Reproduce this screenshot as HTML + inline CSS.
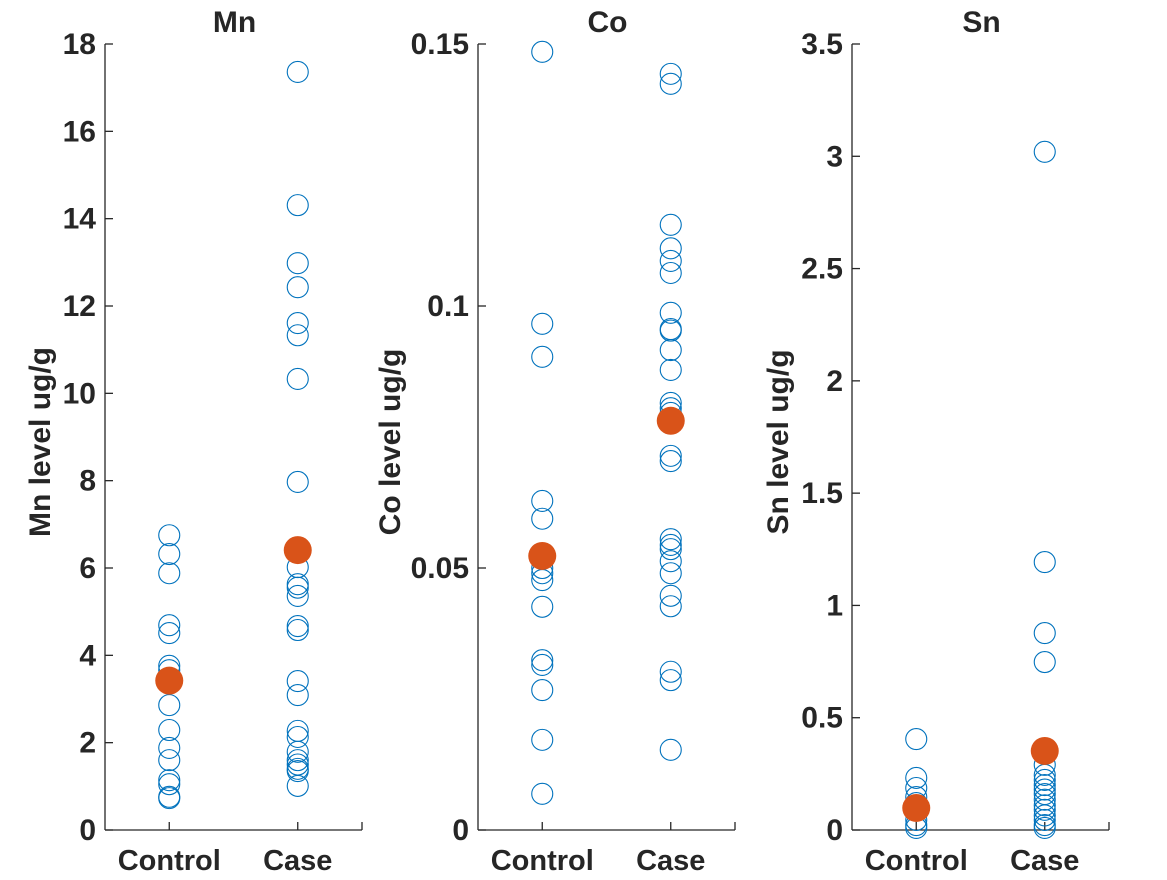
<!DOCTYPE html>
<html><head><meta charset="utf-8"><style>
body{margin:0;background:#fff;}
svg text{font-family:"Liberation Sans",Arial,sans-serif;font-weight:bold;fill:#262626;}
</style></head><body>
<svg id="chart" width="1167" height="875" xmlns="http://www.w3.org/2000/svg"></svg>
<script>
const categories = ["Control","Case"];
const titles = ["Mn","Co","Sn"];
const mnControl = [6.75,6.32,5.88,4.69,4.51,3.76,3.66,2.86,2.29,1.88,1.6,1.14,1.05,0.76,0.73];
const mnCase = [17.36,14.31,12.98,12.43,11.61,11.33,10.33,7.97,6.02,5.63,5.55,5.36,4.67,4.58,3.41,3.09,2.27,2.13,1.79,1.6,1.5,1.4,1.35,1.01];
const mnMeans = [3.42,6.41];
const coControl = [0.1485,0.0966,0.0903,0.0628,0.0594,0.05,0.049,0.0477,0.0426,0.0324,0.0315,0.0267,0.0172,0.0069];
const coCase = [0.1443,0.1424,0.1155,0.111,0.1086,0.1063,0.0987,0.0956,0.0953,0.0916,0.0878,0.0815,0.0805,0.0796,0.0714,0.0704,0.0555,0.0544,0.0536,0.0513,0.049,0.0447,0.0427,0.0302,0.0286,0.0153];
const coMeans = [0.0523,0.0781];
const snControl = [0.405,0.232,0.187,0.147,0.12,0.045,0.022,0.009];
const snCase = [3.02,1.193,0.877,0.748,0.29,0.245,0.223,0.2,0.18,0.16,0.135,0.11,0.09,0.065,0.045,0.022,0.009];
const snMeans = [0.098,0.352];
const mnTicks = [0,2,4,6,8,10,12,14,16,18];
const coTicks = [0,0.05,0.1,0.15];
const snTicks = [0,0.5,1,1.5,2,2.5,3,3.5];
const yMaxes = [18,0.15,3.5];

const svg = document.getElementById('chart');
const NS = 'http://www.w3.org/2000/svg';
function mk(tag, attrs, parent){const e=document.createElementNS(NS,tag);for(const k in attrs)e.setAttribute(k,attrs[k]);parent.appendChild(e);return e;}
const panelsX = [105,478,852];
const W = 257, yTop = 44, yBottom = 830;
const labelX = [40,390,778];
const data = [[mnControl,mnCase,mnMeans,mnTicks],[coControl,coCase,coMeans,coTicks],[snControl,snCase,snMeans,snTicks]];

data.forEach((d,p)=>{
  const x0 = panelsX[p];
  const ymax = yMaxes[p];
  const g = mk('g',{},svg);
  
  
  const yS = v => yBottom - v/ymax*(yBottom-yTop);
  const xS = i => x0 + W*(i+0.5)/2;
  const ya = mk('line',{x1:x0,y1:yTop,x2:x0,y2:yBottom,stroke:'#262626','stroke-width':1.3},g);
  
  
  const xa = mk('line',{x1:x0,y1:yBottom,x2:x0+W,y2:yBottom,stroke:'#262626','stroke-width':1.3},g);
  
  
  mk('line',{x1:x0+W,y1:yBottom,x2:x0+W,y2:yBottom-8,stroke:'#262626','stroke-width':1.3},g);
  d[3].forEach(t=>{
    const y = yS(t);
    mk('line',{x1:x0,y1:y,x2:x0+8,y2:y,stroke:'#262626','stroke-width':1.3},g);
    const tl = mk('text',{x:x0-9,y:y+10,'text-anchor':'end','font-size':30},g);
    tl.textContent = String(t);
    
    
  });
  categories.forEach((c,i)=>{
    const x = xS(i);
    mk('line',{x1:x,y1:yBottom,x2:x,y2:yBottom-8,stroke:'#262626','stroke-width':1.3},g);
    const tl = mk('text',{x:x,y:yBottom+40,'text-anchor':'middle','font-size':29},g);
    tl.textContent = c;
    
    
  });
  const tt = mk('text',{x:x0+W/2+1,y:32,'text-anchor':'middle','font-size':30},g);
  tt.textContent = titles[p];
  
  
  const yl = mk('text',{x:0,y:0,'text-anchor':'middle','font-size':30,transform:`translate(${labelX[p]+10},${(yTop+yBottom)/2+5}) rotate(-90)`},g);
  yl.textContent = titles[p]+' level ug/g';
  
  
  [d[0],d[1]].forEach((arr,i)=>{
    arr.forEach(v=>{
      const c = mk('circle',{cx:xS(i),cy:yS(v),r:10.5,fill:'none',stroke:'#0072BD','stroke-width':1.1},g);
      
      
    });
  });
  d[2].forEach((v,i)=>{
    const c = mk('circle',{cx:xS(i),cy:yS(v),r:14,fill:'#D95319'},g);
    
    
  });
});
</script>
</body></html>
